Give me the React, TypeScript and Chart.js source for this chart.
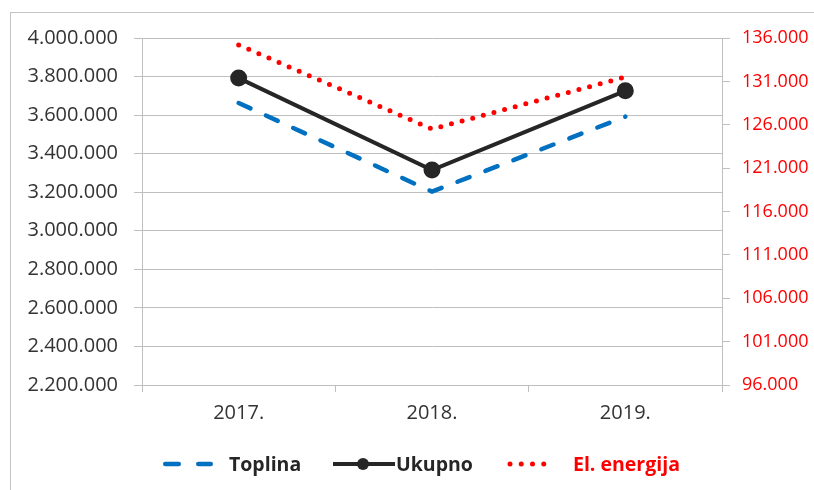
import React, { useEffect, useRef } from "react";
import { Chart, registerables } from "chart.js";

Chart.register(...registerables);

const categories = ["2017.", "2018.", "2019."];
const toplina = [3663000, 3203000, 3592000];
const ukupno = [3792000, 3315000, 3726000];
const elEnergija = [135200, 125500, 131500];

const leftTicks = { min: 2200000, max: 4000000, step: 200000 };
const rightTicks = { min: 96000, max: 136000, step: 5000 };

const fmt = (v: number) => String(Math.round(v)).replace(/\B(?=(\d{3})+(?!\d))/g, ".");

const GRID = "#bfbfbf";
const TXT = "#333333";
const FONT = "'Open Sans', sans-serif";

export default function App() {
  const ref = useRef<HTMLCanvasElement | null>(null);

  useEffect(() => {
    if (!ref.current) return;
    const chart = new Chart(ref.current, {
      type: "line",
      data: {
        labels: categories,
        datasets: [
          {
            label: "Toplina",
            data: toplina,
            yAxisID: "y",
            borderColor: "#0070C0",
            borderWidth: 4.5,
            borderDash: [13, 17],
            borderCapStyle: "round",
            pointRadius: 0,
            fill: false,
            tension: 0,
          },
          {
            label: "Ukupno",
            data: ukupno,
            yAxisID: "y",
            borderColor: "#262626",
            backgroundColor: "#262626",
            borderWidth: 4,
            pointRadius: 6.5,
            pointBackgroundColor: "#262626",
            pointBorderColor: "#262626",
            fill: false,
            tension: 0,
          },
          {
            label: "El. energija",
            data: elEnergija,
            yAxisID: "y1",
            borderColor: "#FF0000",
            borderWidth: 5,
            borderDash: [0, 11],
            borderCapStyle: "round",
            pointRadius: 0,
            fill: false,
            tension: 0,
          },
        ],
      },
      options: {
        animation: false,
        responsive: false,
        maintainAspectRatio: false,
        layout: { padding: { top: 38, left: 0, right: 0, bottom: 0 } },
        plugins: { legend: { display: false }, tooltip: { enabled: false } },
        scales: {
          x: {
            offset: true,
            grid: { offset: true, drawOnChartArea: false, color: GRID, tickLength: 7 },
            border: { display: true, color: GRID },
            ticks: { color: TXT, font: { family: FONT, size: 20 }, padding: 9, maxRotation: 0 },
            afterFit: (s: any) => { s.height = 105; },
          },
          y: {
            position: "left",
            min: leftTicks.min,
            max: leftTicks.max,
            grid: { color: GRID, tickLength: 8 },
            border: { display: true, color: GRID },
            ticks: {
              stepSize: leftTicks.step,
              color: TXT,
              font: { family: FONT, size: 20 },
              padding: 16,
              callback: (v: any) => fmt(Number(v)),
            },
            afterFit: (s: any) => { s.width = 142; },
          },
          y1: {
            position: "right",
            min: rightTicks.min,
            max: rightTicks.max,
            grid: { drawOnChartArea: false, color: GRID, tickLength: 8 },
            border: { display: true, color: GRID },
            ticks: {
              stepSize: rightTicks.step,
              color: "#FF0000",
              font: { family: FONT, size: 18 },
              padding: 12,
              callback: (v: any) => fmt(Number(v)),
            },
            afterFit: (s: any) => { s.width = 92; },
          },
        },
      },
    } as any);
    return () => chart.destroy();
  }, []);

  const legendText: React.CSSProperties = {
    position: "absolute",
    top: 0,
    fontFamily: FONT,
    fontWeight: 700,
    fontSize: 19.5,
    lineHeight: "24px",
    whiteSpace: "nowrap",
  };

  return (
    <div style={{ position: "fixed", left: 0, top: 0, width: 814, height: 490, overflow: "hidden", background: "#fff" }}>
      <div style={{ position: "absolute", left: 10, top: 12, width: 900, height: 600, border: "1px solid #c4c4c4" }} />
      <canvas ref={ref} width={814} height={490} style={{ position: "absolute", left: 0, top: 0, width: 814, height: 490 }} />
      <div style={{ position: "absolute", left: 0, top: 452, width: 814, height: 24 }}>
        <svg style={{ position: "absolute", left: 160, top: 0 }} width={56} height={24}>
          <line x1={5.25} y1={12} x2={50.75} y2={12} stroke="#0070C0" strokeWidth={4.5} strokeDasharray="13.5 19.5" strokeLinecap="round" />
        </svg>
        <span style={{ ...legendText, left: 229, color: "#262626" }}>Toplina</span>
        <svg style={{ position: "absolute", left: 330, top: 0 }} width={68} height={24}>
          <line x1={3} y1={12} x2={65} y2={12} stroke="#262626" strokeWidth={4} />
          <circle cx={33} cy={12} r={6} fill="#262626" />
        </svg>
        <span style={{ ...legendText, left: 396, color: "#262626" }}>Ukupno</span>
        <svg style={{ position: "absolute", left: 502, top: 0 }} width={60} height={24}>
          <line x1={8} y1={12} x2={53} y2={12} stroke="#FF0000" strokeWidth={5} strokeDasharray="0 11.25" strokeLinecap="round" />
        </svg>
        <span style={{ ...legendText, left: 573, color: "#FF0000" }}>El. energija</span>
      </div>
    </div>
  );
}
